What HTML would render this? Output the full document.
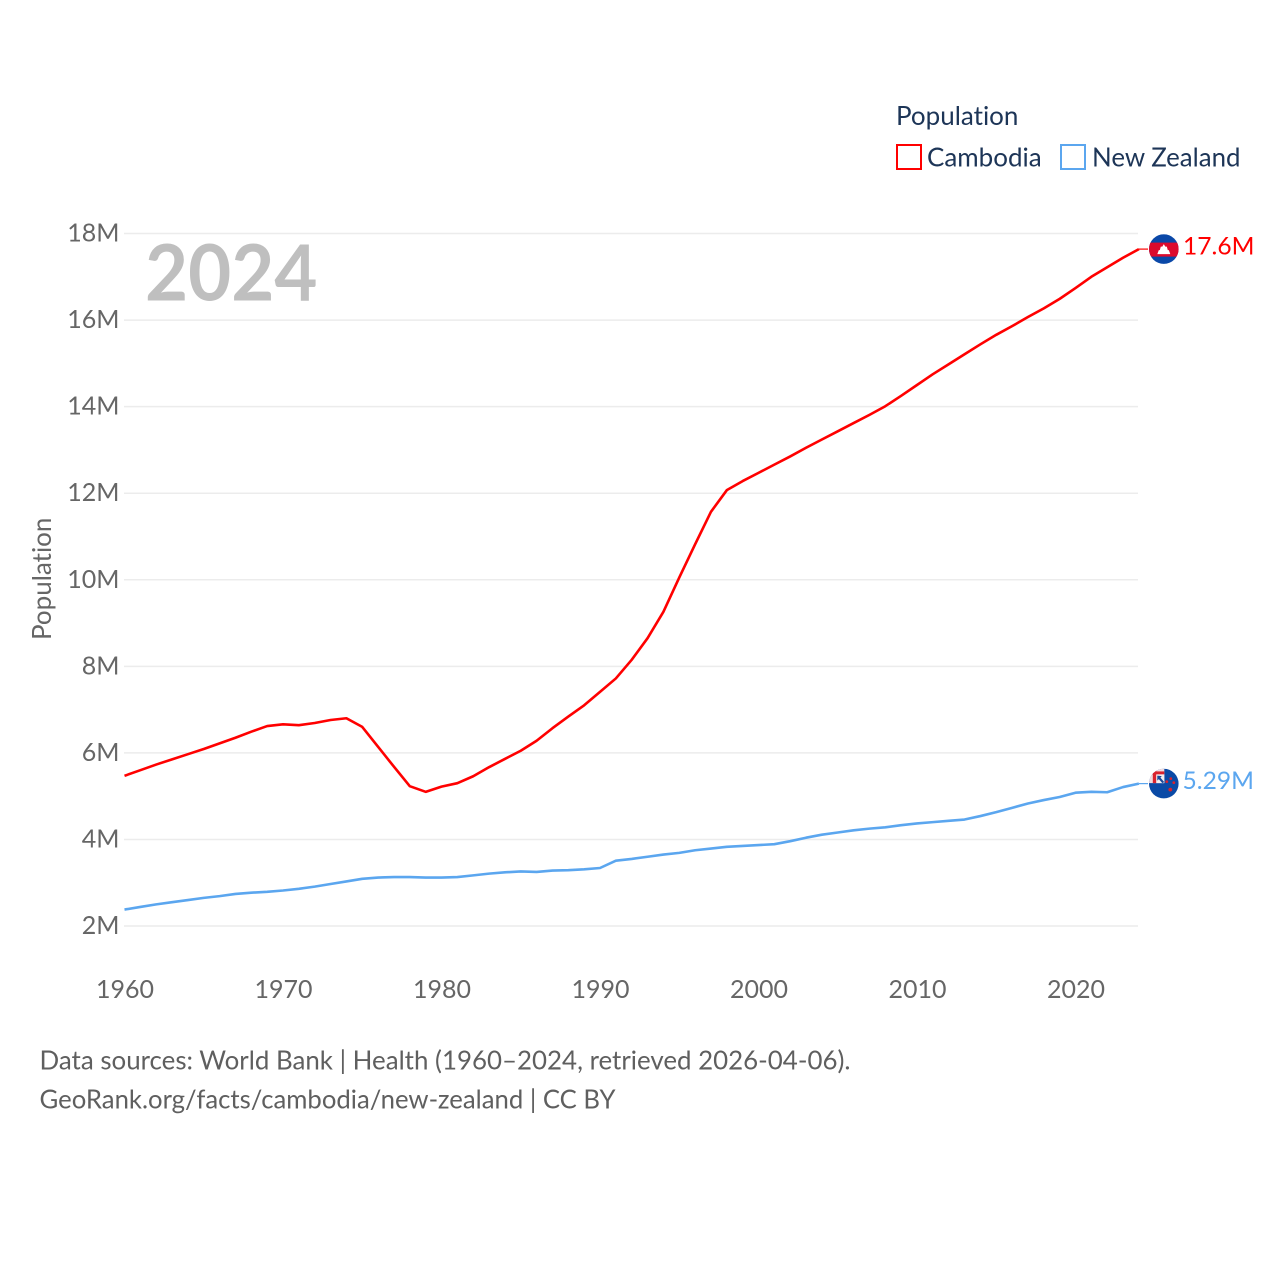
<!DOCTYPE html>
<html lang="en">
<head>
<meta charset="utf-8">
<title>Population: Cambodia and New Zealand</title>
<style>
html,body{margin:0;padding:0;background:#fff;width:1280px;height:1280px;overflow:hidden}
svg{display:block}
text{font-family:"Lato","Carlito","Liberation Sans",sans-serif;font-variant-ligatures:none}
</style>
</head>
<body>
<svg id="chart" xmlns="http://www.w3.org/2000/svg" width="1280" height="1280" viewBox="0 0 1280 1280">
  <defs>
    <clipPath id="flag-clip"><circle cx="0" cy="0" r="14.8"/></clipPath>
  </defs>
  <rect width="1280" height="1280" fill="#fff"/>

  <g id="grid"></g>
  <g id="y-ticks"></g>
  <g id="x-ticks"></g>

  <text x="145" y="300.5" font-size="78" font-weight="700" fill="#bfbfbf" textLength="172.5" lengthAdjust="spacingAndGlyphs">2024</text>
  <text transform="translate(51,640) rotate(-90)" font-size="26" fill="#666">Population</text>

  <g id="series"></g>

  <g id="flag-cambodia" clip-path="url(#flag-clip)">
    <rect x="-15" y="-15" width="30" height="30" fill="#0a48a8"/>
    <rect x="-15" y="-6.5" width="30" height="14" fill="#dc0a2d"/>
    <path d="M0 -5 L1.5 -2.5 L3 -2.5 L4 1 L5 1 L6.5 5 L-6.5 5 L-5 1 L-4 1 L-3 -2.5 L-1.5 -2.5 Z" fill="#fff"/>
  </g>

  <g id="flag-nz" clip-path="url(#flag-clip)">
    <rect x="-15" y="-15" width="30" height="30" fill="#0a4aa6"/>
    <rect x="-15" y="-15" width="15.5" height="14.5" fill="#f2dce0"/>
    <rect x="-15" y="-12.2" width="15.5" height="3" fill="#d9232e"/>
    <rect x="-11" y="-15" width="3.5" height="14.5" fill="#d9232e"/>
    <rect x="-7.5" y="-9.2" width="8" height="8.7" fill="#f4eef0"/>
    <path d="M-6.5 -8 L-2 -7.5 L-3.4 -6 L0.5 -1.5 L-1.5 -0.5 L-5 -4.5 L-6.5 -3 Z" fill="#1a4a9a"/>
    <circle cx="7" cy="-5" r="1.4" fill="#d9232e"/>
    <circle cx="3" cy="-2" r="1.4" fill="#d9232e"/>
    <circle cx="10" cy="-1" r="1.4" fill="#d9232e"/>
    <circle cx="6.5" cy="6" r="1.9" fill="#d9232e"/>
  </g>

  <g id="end-labels"></g>

  <g>
    <text x="896" y="125" font-size="26" fill="#1d3557">Population</text>
    <rect x="897" y="145" width="24" height="24" fill="#fff" stroke="#ff0000" stroke-width="2"/>
    <text x="927" y="166.5" font-size="26" fill="#1d3557">Cambodia</text>
    <rect x="1061" y="145" width="24" height="24" fill="#fff" stroke="#5ba6ef" stroke-width="2"/>
    <text x="1092" y="166.5" font-size="26" fill="#1d3557" textLength="148.5" lengthAdjust="spacingAndGlyphs">New Zealand</text>
  </g>

  <text x="39.5" y="1069.5" font-size="26" fill="#5f5f5f" textLength="811" lengthAdjust="spacingAndGlyphs">Data sources: World Bank | Health (1960–2024, retrieved 2026-04-06).</text>
  <text x="39.5" y="1108.5" font-size="26" fill="#5f5f5f" textLength="576" lengthAdjust="spacingAndGlyphs">GeoRank.org/facts/cambodia/new-zealand | CC BY</text>
</svg>

<script>
const years = [1960,1961,1962,1963,1964,1965,1966,1967,1968,1969,1970,1971,1972,1973,1974,1975,1976,1977,1978,1979,1980,1981,1982,1983,1984,1985,1986,1987,1988,1989,1990,1991,1992,1993,1994,1995,1996,1997,1998,1999,2000,2001,2002,2003,2004,2005,2006,2007,2008,2009,2010,2011,2012,2013,2014,2015,2016,2017,2018,2019,2020,2021,2022,2023,2024];
const cambodia = [5.47,5.60,5.73,5.85,5.97,6.09,6.22,6.35,6.49,6.62,6.66,6.64,6.69,6.76,6.80,6.60,6.14,5.68,5.23,5.10,5.22,5.30,5.46,5.67,5.86,6.05,6.28,6.57,6.84,7.10,7.41,7.72,8.15,8.65,9.26,10.05,10.82,11.57,12.07,12.28,12.47,12.66,12.85,13.05,13.24,13.43,13.62,13.81,14.01,14.25,14.50,14.75,14.98,15.21,15.44,15.66,15.86,16.07,16.27,16.49,16.74,17.00,17.22,17.44,17.64];
const newZealand = [2.38,2.44,2.50,2.55,2.60,2.65,2.69,2.74,2.77,2.79,2.82,2.86,2.91,2.97,3.03,3.09,3.12,3.13,3.13,3.12,3.12,3.13,3.17,3.21,3.24,3.26,3.25,3.28,3.29,3.31,3.34,3.51,3.55,3.60,3.65,3.69,3.75,3.79,3.83,3.85,3.87,3.89,3.96,4.04,4.11,4.16,4.21,4.25,4.28,4.33,4.37,4.40,4.43,4.46,4.54,4.63,4.73,4.83,4.91,4.98,5.08,5.10,5.09,5.21,5.29];
const yTickValues = [2,4,6,8,10,12,14,16,18];
const yTickLabels = ["2M","4M","6M","8M","10M","12M","14M","16M","18M"];
const xTickValues = [1960,1970,1980,1990,2000,2010,2020];
const xTickLabels = ["1960","1970","1980","1990","2000","2010","2020"];
const endLabels = ["17.6M","5.29M"];

const NS = 'http://www.w3.org/2000/svg';
function xScale(year){ return 124.5 + (year - 1960) * 15.85; }
function yScale(value){ return 926 - (value - 2) * 43.28; }
function make(tag, attrs, parent){
  const el = document.createElementNS(NS, tag);
  for (const k in attrs) el.setAttribute(k, attrs[k]);
  parent.appendChild(el);
  return el;
}

const gridGroup = document.getElementById('grid');
const yTickGroup = document.getElementById('y-ticks');
const xTickGroup = document.getElementById('x-ticks');
const seriesGroup = document.getElementById('series');
const endGroup = document.getElementById('end-labels');

yTickValues.forEach(function(v, i){
  const line = make('line', {x1:124, x2:1138, y1:yScale(v), y2:yScale(v), stroke:'#ececec', 'stroke-width':1.5}, gridGroup);
  
  
  const t = make('text', {x:119.5, y:yScale(v) + 8, 'text-anchor':'end', 'font-size':25, fill:'#666'}, yTickGroup);
  t.textContent = yTickLabels[i];
  
  
});

xTickValues.forEach(function(v, i){
  const t = make('text', {x:xScale(v) + 0.5, y:998, 'text-anchor':'middle', 'font-size':25, fill:'#666'}, xTickGroup);
  t.textContent = xTickLabels[i];
  
  
});

function drawSeries(values, color){
  const pts = values.map(function(v, i){ return xScale(years[i]).toFixed(2) + ',' + yScale(v).toFixed(2); }).join(' ');
  return make('polyline', {points:pts, fill:'none', stroke:color, 'stroke-width':2.6, 'stroke-linejoin':'round', 'stroke-linecap':'butt'}, seriesGroup);
}
const cambodiaLine = drawSeries(cambodia, '#ff0000');


const nzLine = drawSeries(newZealand, '#5ba6ef');



function drawEnd(values, color, label, flagId, textX){
  const last = values[values.length - 1];
  const y = yScale(last);
  const lastX = xScale(years[years.length - 1]);
  const conn = make('line', {x1:lastX, x2:1148, y1:y, y2:y, stroke:color, 'stroke-width':1.2}, endGroup);
  
  
  document.getElementById(flagId).setAttribute('transform', 'translate(1163.8,' + y.toFixed(2) + ')');
  const t = make('text', {x:textX, y:y + 5.5, 'font-size':24.6, fill:color}, endGroup);
  t.textContent = label;
  
  
}
drawEnd(cambodia, '#ff0000', endLabels[0], 'flag-cambodia', 1183);
drawEnd(newZealand, '#5ba6ef', endLabels[1], 'flag-nz', 1182.5);
</script>
</body>
</html>
